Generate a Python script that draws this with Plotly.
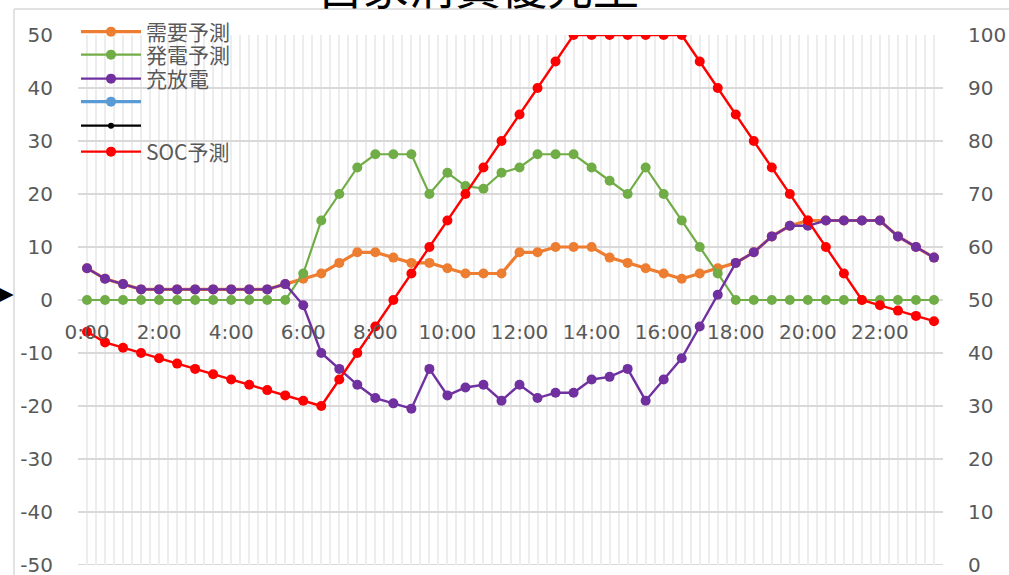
import plotly.graph_objects as go

# Half-hour time slots for one day
TIMES = [f"{h}:{m:02d}" for h in range(24) for m in (0, 30)]

# Demand forecast (kW)
demand = [6, 4, 3, 2, 2, 2, 2, 2, 2, 2, 2, 3,
          4, 5, 7, 9, 9, 8, 7, 7, 6, 5, 5, 5,
          9, 9, 10, 10, 10, 8, 7, 6, 5, 4, 5, 6,
          7, 9, 12, 14, 15, 15, 15, 15, 15, 12, 10, 8]

# Generation forecast (kW)
generation = [0, 0, 0, 0, 0, 0, 0, 0, 0, 0, 0, 0,
              5, 15, 20, 25, 27.5, 27.5, 27.5, 20, 24, 21.5, 21, 24,
              25, 27.5, 27.5, 27.5, 25, 22.5, 20, 25, 20, 15, 10, 5,
              0, 0, 0, 0, 0, 0, 0, 0, 0, 0, 0, 0]

# Battery charge / discharge (kW)
charge = [6, 4, 3, 2, 2, 2, 2, 2, 2, 2, 2, 3,
          -1, -10, -13, -16, -18.5, -19.5, -20.5, -13, -18, -16.5, -16, -19,
          -16, -18.5, -17.5, -17.5, -15, -14.5, -13, -19, -15, -11, -5, 1,
          7, 9, 12, 14, 14, 15, 15, 15, 15, 12, 10, 8]

# State of charge forecast (%)
soc = [44, 42, 41, 40, 39, 38, 37, 36, 35, 34, 33, 32,
       31, 30, 35, 40, 45, 50, 55, 60, 65, 70, 75, 80,
       85, 90, 95, 100, 100, 100, 100, 100, 100, 100, 95, 90,
       85, 80, 75, 70, 65, 60, 55, 50, 49, 48, 47, 46]

# Axis ticks
X_TICK_LABELS = ["0:00", "2:00", "4:00", "6:00", "8:00", "10:00",
                 "12:00", "14:00", "16:00", "18:00", "20:00", "22:00"]
LEFT_TICKS = [50, 40, 30, 20, 10, 0, -10, -20, -30, -40, -50]
RIGHT_TICKS = [100, 90, 80, 70, 60, 50, 40, 30, 20, 10, 0]

TITLE = "自家消費優先型"


def to_hours(label):
    h, m = label.split(":")
    return int(h) + int(m) / 60


hours = [to_hours(t) for t in TIMES]
x_tickvals = [to_hours(t) for t in X_TICK_LABELS]

FONT = "Noto Sans CJK JP"
NUM_FONT = "DejaVu Sans"
TICK_COLOR = "#595959"
GRID_H = "#D9D9D9"
GRID_V = "#EDEDED"

# Plot-area geometry in pixels (used for legend / frame placement)
W, H = 1009, 575
L, R, T, B = 78, 66, 35, 10
PW, PH = W - L - R, H - T - B


def px(x):
    return (x - L) / PW


def py(y):
    return (H - B - y) / PH


fig = go.Figure()

series = [
    ("需要予測", demand, "#ED7D31", 3.2, 10, "y", "legend"),
    ("発電予測", generation, "#70AD47", 2.2, 10, "y", "legend2"),
    ("充放電", charge, "#7030A0", 2.4, 10, "y", "legend3"),
    (" ", [None] * len(TIMES), "#5B9BD5", 3.2, 10, "y", "legend4"),
    ("  ", [None] * len(TIMES), "#000000", 2.2, 6, "y", "legend5"),
    ("SOC予測", soc, "#FF0000", 2.4, 10, "y2", "legend6"),
]

for name, vals, color, lw, ms, yax, leg in series:
    fig.add_trace(go.Scatter(
        x=hours, y=vals, name=name, mode="lines+markers",
        line=dict(color=color, width=lw),
        marker=dict(color=color, size=ms, symbol="circle"),
        yaxis=yax, legend=leg, connectgaps=False,
    ))

legend_rows = [32, 55, 79, 102, 126, 152]
legend_common = dict(
    x=px(76), xanchor="left", yanchor="middle",
    bgcolor="rgba(0,0,0,0)", borderwidth=0,
    font=dict(family=FONT, size=21, color=TICK_COLOR),
    itemwidth=60, itemclick=False, itemdoubleclick=False,
)
legend_layout = {}
for i, row in enumerate(legend_rows):
    key = "legend" if i == 0 else f"legend{i + 1}"
    legend_layout[key] = dict(legend_common, y=py(row))

tick_font = dict(family=NUM_FONT, size=20, color=TICK_COLOR)

fig.update_layout(
    width=W, height=H, autosize=False,
    margin=dict(l=L, r=R, t=T, b=B, pad=0, autoexpand=False),
    paper_bgcolor="white", plot_bgcolor="white",
    font=dict(family=FONT, color=TICK_COLOR, size=20),
    showlegend=True,
    **legend_layout,
    xaxis=dict(
        range=[-0.25, 23.75], tickmode="array",
        tickvals=x_tickvals, ticktext=X_TICK_LABELS,
        showgrid=True, gridcolor=GRID_V, gridwidth=1.6,
        minor=dict(dtick=0.25, tick0=0, showgrid=True,
                   gridcolor=GRID_V, gridwidth=1.6),
        zeroline=False, showline=False, ticks="",
        anchor="free", position=0.5, ticklabelstandoff=18,
        ticklabeloverflow="allow", tickfont=tick_font, automargin=False,
    ),
    yaxis=dict(
        range=[-50, 50], tickmode="array",
        tickvals=LEFT_TICKS, ticktext=[str(v) for v in LEFT_TICKS],
        showgrid=True, gridcolor=GRID_H, gridwidth=2,
        zeroline=False, showline=False, ticks="",
        ticklabelstandoff=24, domain=[0, 1],
        ticklabeloverflow="allow", tickfont=tick_font, automargin=False,
    ),
    yaxis2=dict(
        range=[0, 100], overlaying="y", side="right",
        tickmode="array", tickvals=RIGHT_TICKS,
        ticktext=[str(v) for v in RIGHT_TICKS],
        showgrid=False, zeroline=False, showline=False, ticks="",
        ticklabelstandoff=24,
        ticklabeloverflow="allow", tickfont=tick_font, automargin=False,
    ),
)

# Bottom gridline at -50 (edge of the plot area)
fig.add_shape(type="line", xref="paper", yref="y",
              x0=0, x1=1, y0=-50, y1=-50,
              line=dict(color=GRID_H, width=2), layer="below")

# Chart frame (left and top edges)
frame = dict(type="line", xref="paper", yref="paper",
             line=dict(color="#D9D9D9", width=1.5), layer="below")
fig.add_shape(frame, x0=px(14), x1=px(14), y0=py(9), y1=py(H + 5))
fig.add_shape(frame, x0=px(14), x1=px(W + 5), y0=py(9), y1=py(9))

# Title, sitting mostly above the visible page
fig.add_annotation(
    text=TITLE, xref="paper", yref="paper",
    x=px(478), y=py(-16), xanchor="center", yanchor="middle",
    showarrow=False, font=dict(family=FONT, size=46, color="black"),
)

# Marker arrow on the left edge
fig.add_annotation(
    text="▶", xref="paper", yref="paper",
    x=px(6), y=py(293), xanchor="center", yanchor="middle",
    showarrow=False, font=dict(family="DejaVu Sans", size=19, color="black"),
)

fig.write_html("out.html")
